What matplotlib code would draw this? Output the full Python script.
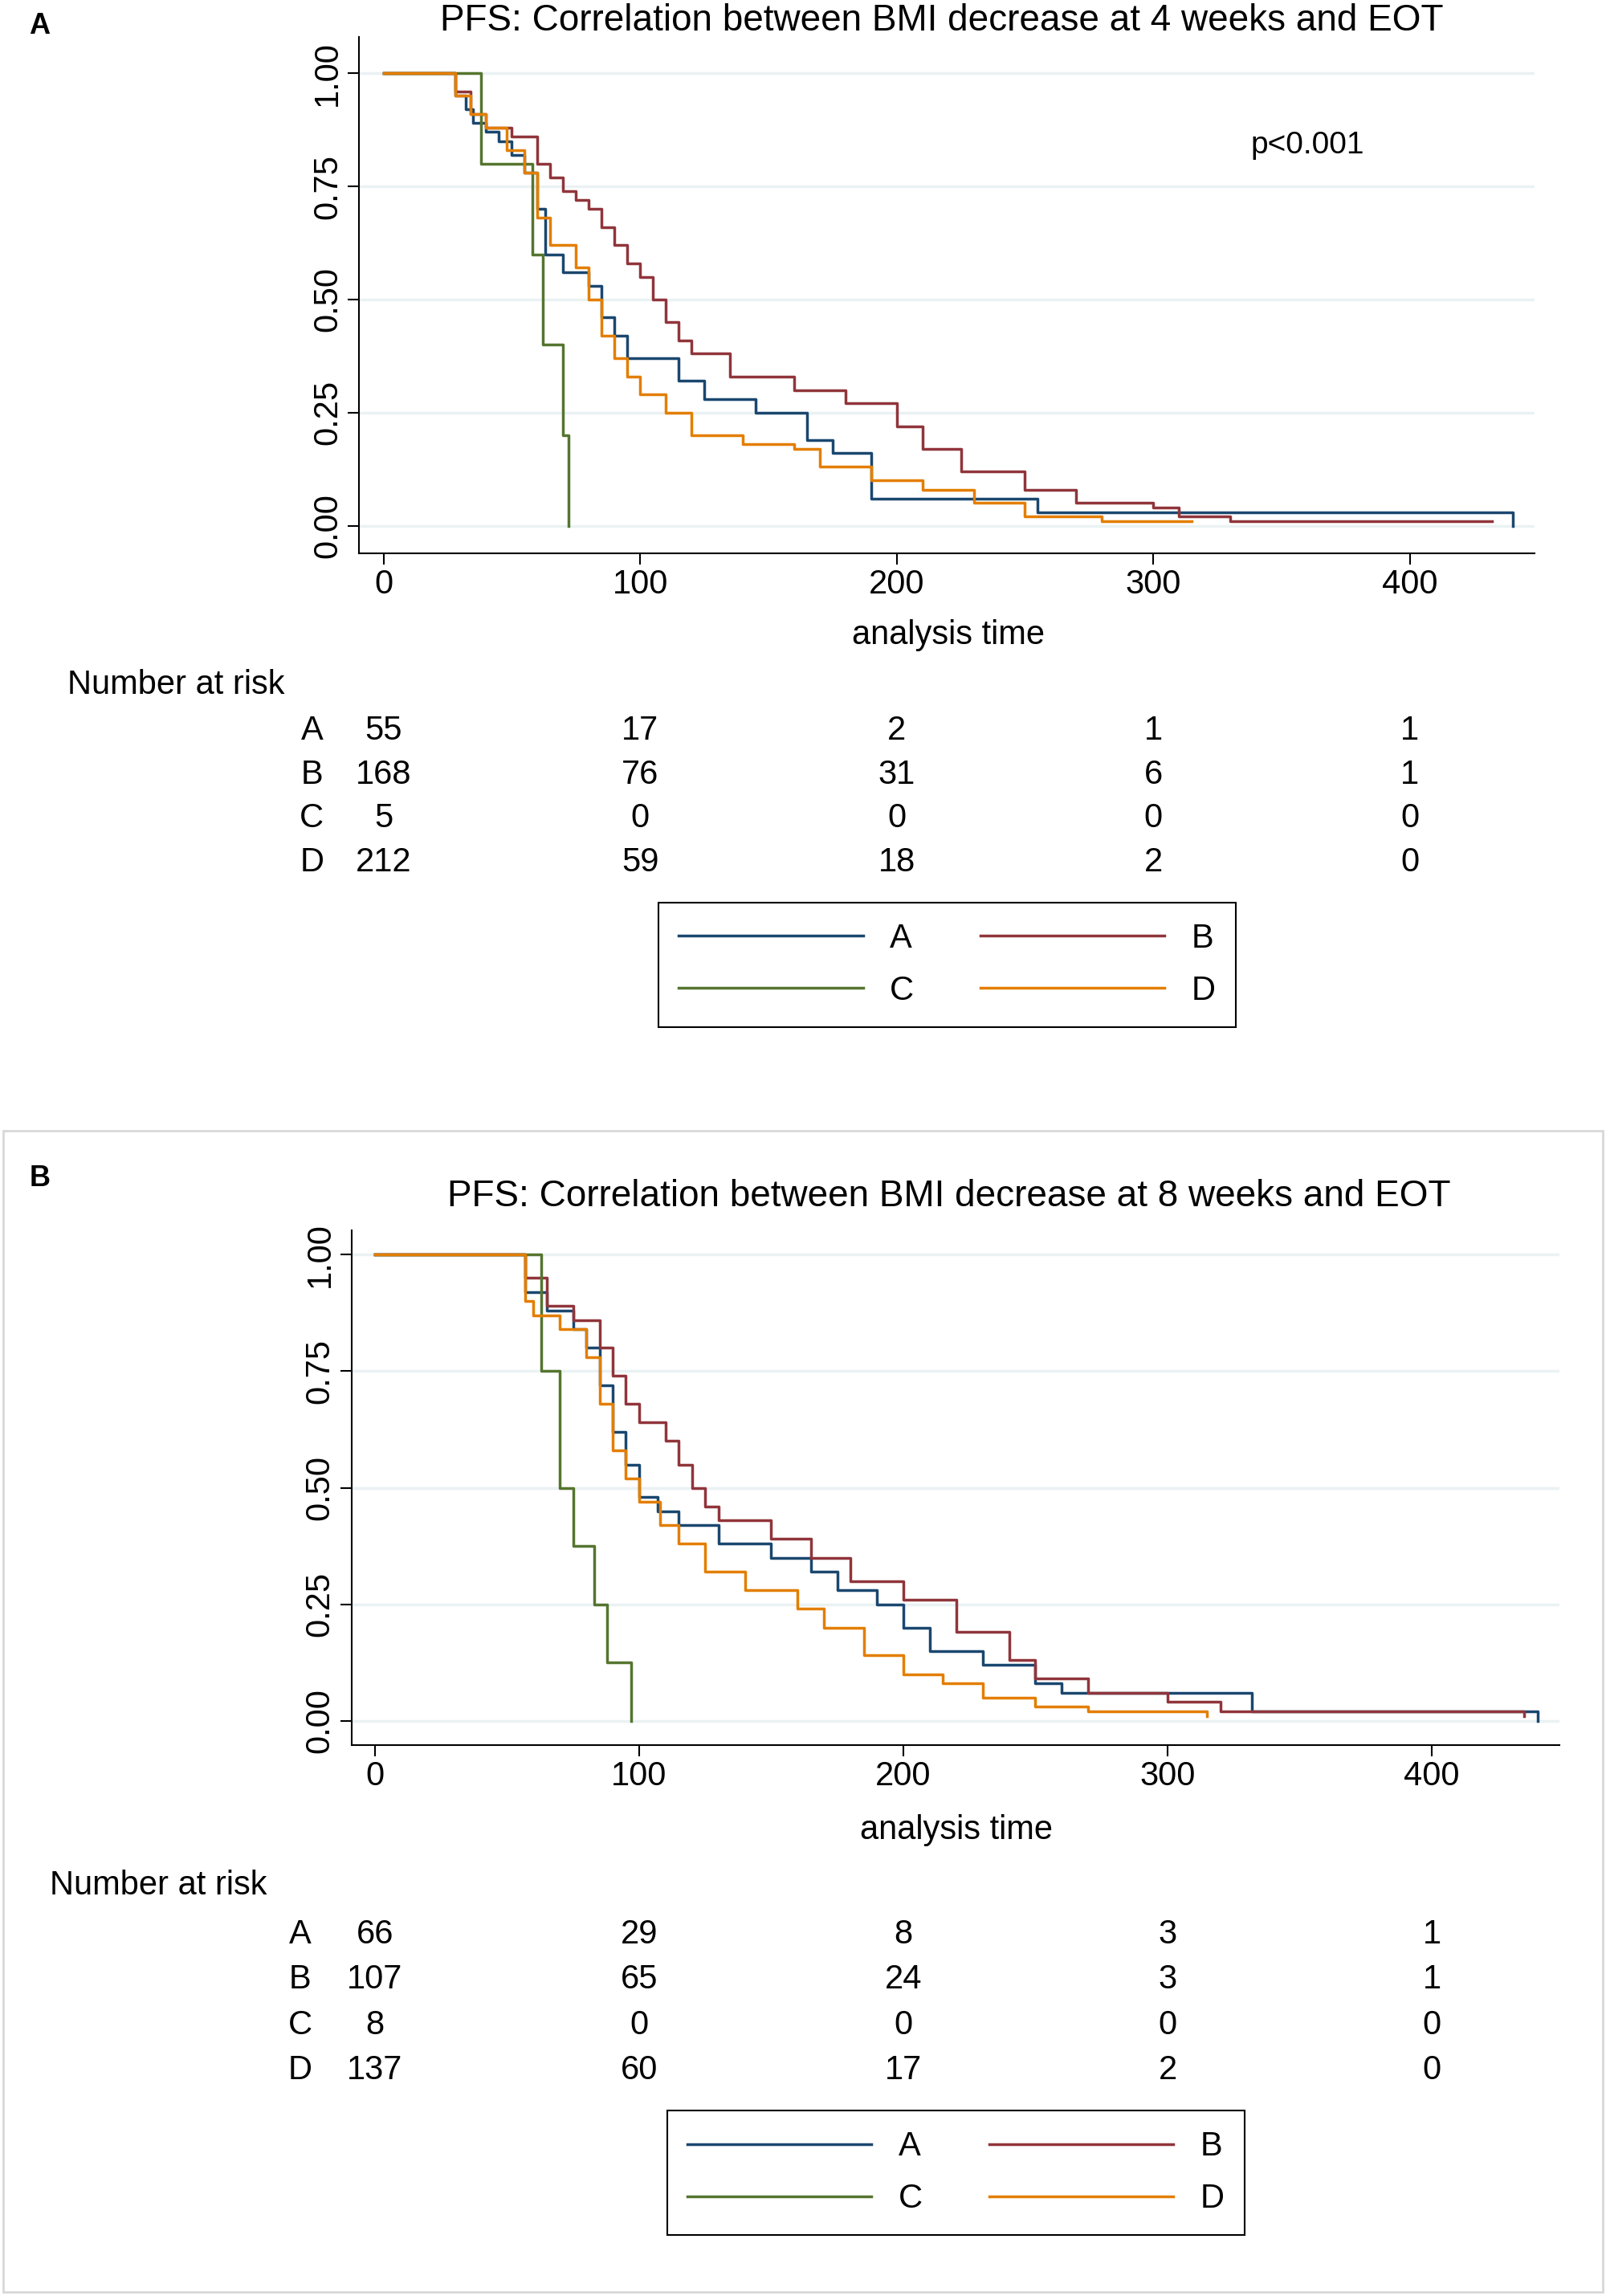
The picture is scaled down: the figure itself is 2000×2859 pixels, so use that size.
import matplotlib
matplotlib.use("Agg")
import matplotlib.pyplot as plt
from matplotlib.lines import Line2D
from matplotlib.patches import Rectangle
from matplotlib.transforms import blended_transform_factory as btf

plt.rcParams['font.family'] = ['Liberation Sans', 'DejaVu Sans']

W, H = 1097.0, 1568.0
groups = ["A", "B", "C", "D"]
colors = ["#1a476f", "#90353b", "#55752f", "#e37e00"]

# Panel A (4 weeks) step curves: times and survival
a_A_t = [0, 28, 32, 35, 40, 45, 50, 55, 60, 63, 70, 80, 85, 90, 95, 115, 125, 145, 165, 175, 190, 255, 440]
a_A_s = [1, .95, .92, .89, .87, .85, .82, .78, .70, .60, .56, .53, .46, .42, .37, .32, .28, .25, .19, .16, .06, .03, 0]
a_B_t = [0, 28, 34, 40, 50, 60, 65, 70, 75, 80, 85, 90, 95, 100, 105, 110, 115, 120, 135, 160, 180, 200, 210, 225, 250, 270, 300, 310, 330, 432]
a_B_s = [1, .96, .91, .88, .86, .80, .77, .74, .72, .70, .66, .62, .58, .55, .50, .45, .41, .38, .33, .30, .27, .22, .17, .12, .08, .05, .04, .02, .01, .01]
a_C_t = [0, 38, 58, 62, 70, 72]
a_C_s = [1, .80, .60, .40, .20, 0]
a_D_t = [0, 28, 34, 40, 48, 55, 60, 65, 75, 80, 85, 90, 95, 100, 110, 120, 140, 160, 170, 190, 210, 230, 250, 280, 315]
a_D_s = [1, .95, .91, .88, .83, .78, .68, .62, .57, .50, .42, .37, .33, .29, .25, .20, .18, .17, .13, .10, .08, .05, .02, .01, .01]

# Panel B (8 weeks)
b_A_t = [0, 57, 65, 75, 80, 85, 90, 95, 100, 107, 115, 130, 150, 165, 175, 190, 200, 210, 230, 250, 260, 332, 440]
b_A_s = [1, .92, .88, .84, .80, .72, .62, .55, .48, .45, .42, .38, .35, .32, .28, .25, .20, .15, .12, .08, .06, .02, 0]
b_B_t = [0, 57, 65, 75, 85, 90, 95, 100, 110, 115, 120, 125, 130, 150, 165, 180, 200, 220, 240, 250, 270, 300, 320, 435]
b_B_s = [1, .95, .89, .86, .80, .74, .68, .64, .60, .55, .50, .46, .43, .39, .35, .30, .26, .19, .13, .09, .06, .04, .02, .01]
b_C_t = [0, 63, 70, 75, 83, 88, 97]
b_C_s = [1, .75, .50, .375, .25, .125, 0]
b_D_t = [0, 57, 60, 70, 80, 85, 90, 95, 100, 108, 115, 125, 140, 160, 170, 185, 200, 215, 230, 250, 270, 315]
b_D_s = [1, .90, .87, .84, .78, .68, .58, .52, .47, .42, .38, .32, .28, .24, .20, .14, .10, .08, .05, .03, .02, .01]

risk_times = [0, 100, 200, 300, 400]
risk_a = [[55, 17, 2, 1, 1], [168, 76, 31, 6, 1], [5, 0, 0, 0, 0], [212, 59, 18, 2, 0]]
risk_b = [[66, 29, 8, 3, 1], [107, 65, 24, 3, 1], [8, 0, 0, 0, 0], [137, 60, 17, 2, 0]]
title_a = "PFS: Correlation between BMI decrease at 4 weeks and EOT"
title_b = "PFS: Correlation between BMI decrease at 8 weeks and EOT"

fig = plt.figure(figsize=(20, 28.59), dpi=100)
fs = 30

def fy(y): return 1 - y / H
def fx(x): return x / W

fig.patches.append(Rectangle((fx(2), fy(1565)), fx(1093), (1565 - 772) / H,
                             transform=fig.transFigure, fill=False, edgecolor="#d8d8d8", lw=2))

def panel(l, r, top, bot, xlim, ylim, curves, risk, title, title_x, title_y, letter, letter_y,
          xlab_y, rows_y, leg_box):
    ax = fig.add_axes([fx(l), fy(bot), fx(r - l), (bot - top) / H])
    for (t, s), c in zip(curves, colors):
        ax.step(t, s, where="post", color=c, lw=2.5)
    ax.set_xlim(*xlim); ax.set_ylim(*ylim)
    ax.set_xticks(risk_times)
    ax.set_yticks([0, .25, .5, .75, 1])
    ax.set_yticklabels(["0.00", "0.25", "0.50", "0.75", "1.00"], rotation=90, va="center")
    ax.grid(axis="y", color="#eaf2f3", lw=2.5)
    ax.set_axisbelow(True)
    for sp in ["top", "right"]:
        ax.spines[sp].set_visible(False)
    for sp in ["left", "bottom"]:
        ax.spines[sp].set_linewidth(1.5)
    ax.tick_params(labelsize=fs, length=10, width=1.5)
    fig.text(fx(title_x), fy(title_y), title, ha="center", va="center", fontsize=fs + 3)
    fig.text(fx(20), fy(letter_y), letter, fontsize=26, fontweight="bold", va="center")
    tr = btf(ax.transData, fig.transFigure)
    ax.text(220, fy(xlab_y), "analysis time", transform=tr, ha="center", va="center", fontsize=fs)
    fig.text(fx(46 if letter == "A" else 34), fy(rows_y[0]), "Number at risk", fontsize=fs, va="center")
    lx = 213 if letter == "A" else 205
    for g, row, y in zip(groups, risk, rows_y[1:]):
        fig.text(fx(lx), fy(y), g, fontsize=fs, ha="center", va="center")
        for t, v in zip(risk_times, row):
            ax.text(t, fy(y), str(v), transform=tr, fontsize=fs, ha="center", va="center")
    handles = [Line2D([], [], color=c, lw=2.5) for c in colors]
    x0, y0, x1, y1 = leg_box
    leg = fig.legend([handles[0], handles[2], handles[1], handles[3]], ["A", "C", "B", "D"],
                     ncol=2, loc="center", bbox_to_anchor=(fx((x0 + x1) / 2), fy((y0 + y1) / 2)),
                     fontsize=fs, handlelength=5.5, fancybox=False, edgecolor="black",
                     framealpha=1, columnspacing=2.0, handletextpad=0.8, borderpad=0.6,
                     labelspacing=0.6)
    leg.get_frame().set_linewidth(1.5)
    return ax

axA = panel(245, 1048, 25, 378, (-9.7, 448.5), (-0.0615, 1.081),
            [(a_A_t, a_A_s), (a_B_t, a_B_s), (a_C_t, a_C_s), (a_D_t, a_D_s)],
            risk_a, title_a, 643, 14, "A", 18, 434, [468, 499, 529, 559, 589], (481, 616, 813, 702))
axA.text(360, 0.84, "p<0.001", fontsize=fs - 2, ha="center", va="center")
panel(240, 1065, 840, 1192, (-8.9, 448.2), (-0.053, 1.053),
      [(b_A_t, b_A_s), (b_B_t, b_B_s), (b_C_t, b_C_s), (b_D_t, b_D_s)],
      risk_b, title_b, 648, 817, "B", 805, 1250, [1288, 1321, 1352, 1383, 1414], (481, 1440, 825, 1528))

fig.savefig("out.png", dpi=100, facecolor="white")
